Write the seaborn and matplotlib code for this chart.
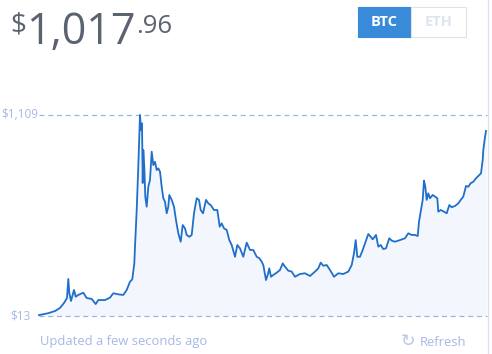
import matplotlib
matplotlib.use("Agg")
import matplotlib.pyplot as plt
import seaborn as sns
import pandas as pd
from matplotlib.patches import Rectangle

# ---- data ----
t = [0, 9, 16, 21, 25, 28, 29.3, 30.3, 32, 35, 36.7, 39.3, 44.3, 47.7, 52.7, 56.7, 59.3,
     66, 71, 74.3, 79.3, 84.3, 87.7, 91, 93.3, 95.3, 96, 97.7, 99.3, 101, 102, 103, 103.7,
     104.3, 105.3, 106.3, 107.7, 109.3, 111, 112.7, 114.3, 116, 117.7, 119.3, 121, 122.7,
     124.3, 126, 127.7, 129.3, 130.3, 132.7, 135, 137, 139.3, 141.7, 143.7, 146, 147.7,
     150.3, 152.7, 155, 157.7, 160, 161.7, 164, 167, 169.3, 171.7, 175, 178.3, 180.7,
     182.7, 185, 187.7, 190.3, 192.7, 196, 198.3, 201, 204.3, 207.7, 211, 214.3, 217.7,
     220.3, 222.7, 224.3, 227, 228.7, 230.3, 232, 234.3, 237.7, 241, 243.7, 246, 249.3,
     252.7, 256, 261, 266, 271, 276, 279.3, 281.7, 284.3, 287.7, 291, 295, 299.3, 304.3,
     309.3, 312.7, 315, 316.7, 318.3, 321, 323.7, 326, 329.3, 331.7, 333.7, 337, 339.3,
     341.7, 344.3, 347, 350.3, 352.7, 356, 361, 366, 369.3, 372.7, 376, 378.7, 380, 381.7,
     383.7, 385, 386.3, 387.7, 389.3, 391, 393.7, 396, 398.3, 399.3, 401.7, 405, 407.7,
     410.3, 412.7, 416, 419.3, 421.7, 424.3, 427, 429.3, 431.7, 434.3, 437, 440.3, 442,
     443.7, 444.3, 446, 447]
price = [18, 28, 40, 57, 84, 111, 215, 138, 95, 155, 118, 128, 140, 111, 106, 78, 100,
         100, 113, 137, 131, 128, 155, 200, 213, 300, 391, 591, 827, 1109, 1027, 1064, 738,
         918, 827, 663, 609, 718, 755, 909, 836, 854, 809, 818, 800, 718,
         655, 636, 573, 609, 673, 646, 609, 536, 464, 418, 509, 491, 455,
         445, 455, 573, 655, 646, 591, 573, 646, 627, 618, 591, 591, 500,
         518, 491, 482, 427, 400, 336, 400, 382, 336, 413, 373, 373, 336,
         328, 309, 291, 209, 237, 273, 227, 237, 249, 264, 300, 282, 260,
         255, 227, 242, 246, 231, 255, 273, 304, 287, 291, 264, 227, 246,
         242, 255, 291, 355, 427, 336, 336, 373, 409, 460, 445, 431, 455,
         391, 400, 378, 382, 437, 424, 418, 427, 437, 464, 455, 455, 449,
         527, 582, 646, 751, 718, 646, 682, 655, 673, 664, 655, 582, 591,
         582, 573, 618, 606, 613, 627, 646, 664, 722, 718, 737, 745, 764,
         782, 791, 864, 918, 989, 1022]
y_min, y_max = 13, 1109
title_main = "1,017"
title_cents = ".96"
tabs = ["BTC", "ETH"]
footer_left = "Updated a few seconds ago"
footer_right = "Refresh"

df = pd.DataFrame({"t": t, "price": price})

W, H = 492, 354
fig = plt.figure(figsize=(W / 100, H / 100), dpi=100)
fig.patch.set_facecolor("white")

def fx(px):
    return px / W

def fy(py):
    return 1 - py / H

# axes: x 39..487 px, y 115..316 px
ax = fig.add_axes([fx(39), fy(316), fx(487) - fx(39), (316 - 115) / H])
ax.set_xlim(0, 448)
ax.set_ylim(y_min, y_max)
ax.axis("off")

line_col = "#1f6fcb"
ax.fill_between(df["t"], df["price"], y_min, color="#f3f7fd", lw=0, zorder=1)
sns.lineplot(data=df, x="t", y="price", ax=ax, color=line_col, lw=1.3, zorder=3)
for line in ax.lines:
    line.set_clip_on(False)

grid_col = "#94b6ea"
for v in (y_min, y_max):
    ax.axhline(v, color=grid_col, lw=0.9, ls=(0, (4, 3)), zorder=2, clip_on=False)

lab_col = "#a8b8e6"
fig.text(fx(38), fy(115), "$1,109", ha="right", va="center", color=lab_col,
         fontsize=8.5, family="Open Sans")
fig.text(fx(31), fy(316), "$13", ha="right", va="center", color=lab_col,
         fontsize=8.5, family="Open Sans")

# title
tcol = "#5b6270"
fig.text(fx(10), fy(33), "$", ha="left", va="baseline", color=tcol,
         fontsize=20, family="Open Sans")
fig.text(fx(26), fy(44), title_main, ha="left", va="baseline", color=tcol,
         fontsize=31, family="Open Sans")
fig.text(fx(136), fy(33), title_cents, ha="left", va="baseline", color=tcol,
         fontsize=18.5, family="Open Sans")

# tabs
fig.patches.append(Rectangle((fx(358), fy(37)), fx(411) - fx(358), (37 - 7) / H,
                             transform=fig.transFigure, facecolor="#3a8ada",
                             edgecolor="#3a8ada", lw=0.8))
fig.patches.append(Rectangle((fx(411), fy(37)), fx(466) - fx(411), (37 - 7) / H,
                             transform=fig.transFigure, facecolor="white",
                             edgecolor="#dde3ee", lw=0.8))
fig.text(fx(384.5), fy(22.5), tabs[0], ha="center", va="center", color="white",
         fontsize=10.5, family="Open Sans", weight="bold")
fig.text(fx(438.5), fy(22.5), tabs[1], ha="center", va="center", color="#dfe5ef",
         fontsize=10.5, family="Open Sans", weight="bold")

# right border
fig.add_artist(plt.Line2D([fx(487.5), fx(487.5)], [0, 1], transform=fig.transFigure,
                          color="#dde3ee", lw=1.0))

# footer
fig.text(fx(40), fy(342), footer_left, ha="left", va="center", color=lab_col,
         fontsize=9.4, family="Open Sans")
fig.text(fx(466), fy(342), footer_right, ha="right", va="center", color=lab_col,
         fontsize=9.4, family="Open Sans")
fig.text(fx(408), fy(341), "\u21bb", ha="center", va="center", color="#b9c6ec",
         fontsize=12.5, family="DejaVu Sans")

fig.savefig("out.png", dpi=100, facecolor="white")
